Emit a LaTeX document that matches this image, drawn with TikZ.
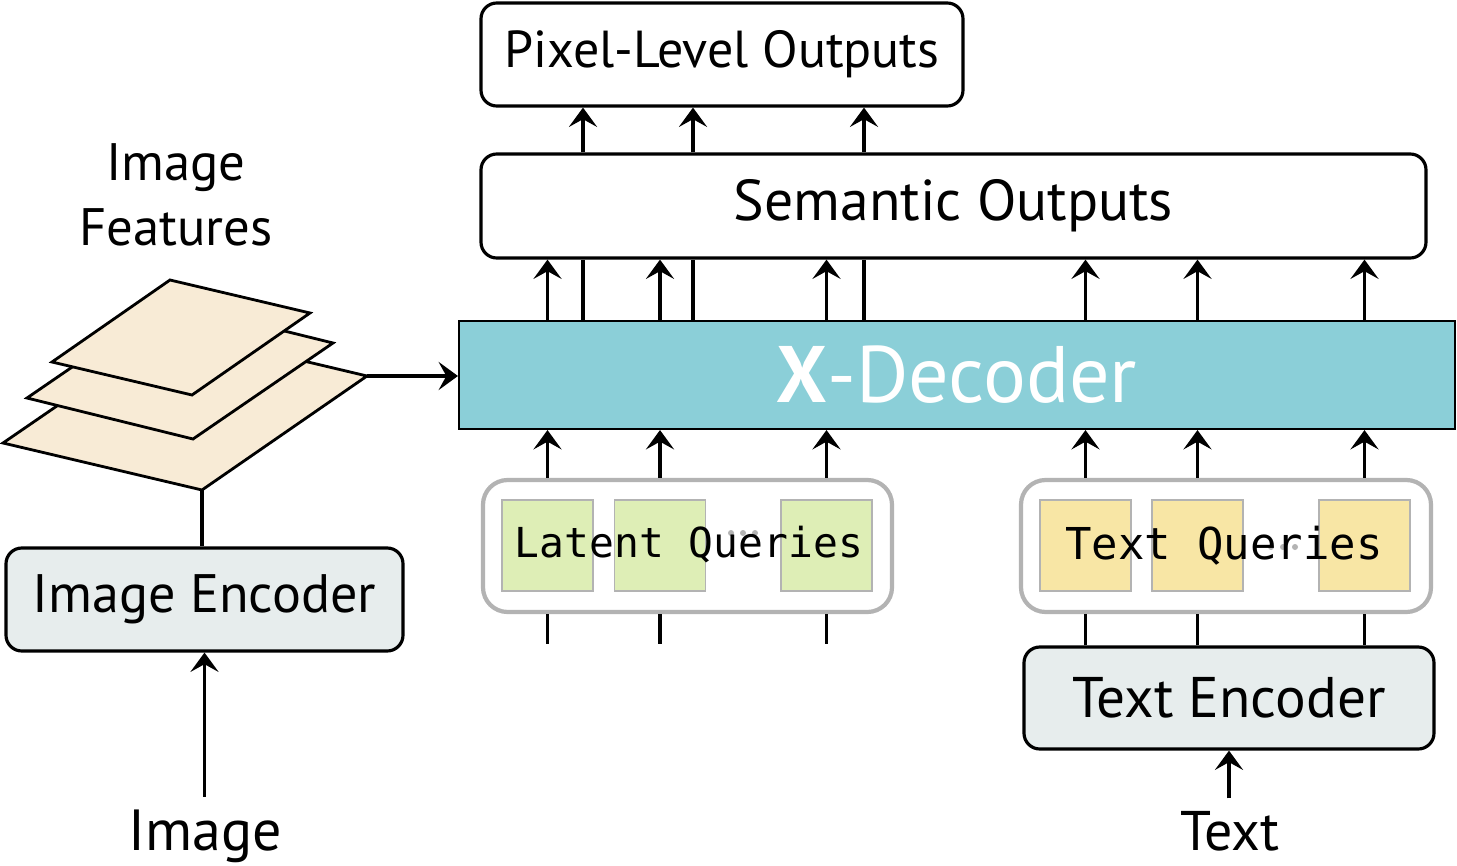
\documentclass[tikz,border=0pt]{standalone}
\usepackage{fontspec}
\setmainfont{PT Sans}
\newfontfamily\qfont{DejaVu Sans Mono}
\usetikzlibrary{positioning, arrows.meta}
\definecolor{decblue}{HTML}{8BCFD8}
\definecolor{latgreen}{HTML}{DEEEB6}
\definecolor{txtyellow}{HTML}{F8E6A5}
\definecolor{encgray}{HTML}{E7EDED}
\definecolor{featbeige}{HTML}{F8EBD6}
\definecolor{grpgray}{HTML}{B3B3B3}
\tikzset{
  outbox/.style={draw, line width=0.9pt, rounded corners=4.5pt, fill=white, inner sep=0pt},
  encbox/.style={draw, line width=0.9pt, rounded corners=4.5pt, fill=encgray, inner sep=0pt,
    minimum width=3.97cm, minimum height=1.03cm, font=\fontsize{15.4}{18}\selectfont},
  grpbox/.style={draw=grpgray, line width=1.2pt, rounded corners=7pt, fill=white, inner sep=0pt,
    minimum width=4.09cm, minimum height=1.32cm},
  qbox/.style={draw=grpgray, line width=0.5pt, inner sep=0pt, minimum size=0.91cm},
  qtext/.style={font=\qfont\fontsize{12}{14}\selectfont, inner sep=0pt},
  qdot/.style={circle, fill=grpgray, inner sep=0pt, minimum size=0.06cm},
  plane/.style={draw, line width=0.8pt, fill=featbeige, line join=miter},
  lbl/.style={font=\fontsize{15.4}{18.5}\selectfont, align=center},
  conn/.style={line width=0.9pt},
  arr/.style={line width=0.9pt, -{Stealth[length=5.5pt, width=8pt, inset=2.2pt]}},
}
\begin{document}
\begin{tikzpicture}
\useasboundingbox (0,0) rectangle (14.57,-8.66);

% feature maps
\draw[plane] (0.03,-4.43) -- (2.02,-4.90) -- (3.67,-3.76) -- (1.69,-3.29) -- cycle;
\draw[plane] (0.27,-3.98) -- (1.93,-4.39) -- (3.33,-3.43) -- (1.67,-3.02) -- cycle;
\draw[plane] (0.52,-3.62) -- (1.92,-3.95) -- (3.10,-3.13) -- (1.70,-2.80) -- cycle;
\coordinate (fbot) at (2.02,-4.90);
\coordinate (fright) at (3.67,-3.76);
\node[lbl, font=\fontsize{15}{18.5}\selectfont] (feat) at (1.76,-1.95) {Image\\Features};

% encoders
\node[encbox] (imgenc) at (2.045,-5.995) {Image Encoder};
\node[encbox, minimum width=4.10cm, minimum height=1.02cm, font=\fontsize{16.3}{18}\selectfont] (txtenc) at (12.29,-6.98) {Text Encoder};
\node[lbl, anchor=base, font=\fontsize{16.5}{18.5}\selectfont] (img) at (2.05,-8.50) {Image};
\node[lbl, anchor=base, font=\fontsize{15.9}{18.5}\selectfont] (txt) at (12.30,-8.50) {Text};

% decoder and outputs
\node[draw, line width=0.6pt, fill=decblue, inner sep=0pt, minimum width=9.96cm, minimum height=1.08cm,
  text=white, font=\fontsize{22.8}{28}\selectfont] (dec) at (9.57,-3.75) {\textbf{X}-Decoder};
\node[outbox, minimum width=9.45cm, minimum height=1.04cm, font=\fontsize{16.4}{20}\selectfont] (sem) at (9.535,-2.06) {Semantic Outputs};
\node[outbox, minimum width=4.82cm, minimum height=1.03cm, font=\fontsize{14.8}{18}\selectfont] (pix) at (7.22,-0.545) {Pixel-Level Outputs};

% query groups
\node[grpbox] (latgrp) at (6.875,-5.46) {};
\node[grpbox, minimum width=4.10cm] (txtgrp) at (12.26,-5.46) {};
\node[qbox, fill=latgreen] (q1) at (5.475,-5.455) {};
\node[qbox, fill=latgreen] (q2) at (6.60,-5.455) {};
\node[qbox, fill=latgreen] (q3) at (8.265,-5.455) {};
\node[qbox, fill=txtyellow] (t1) at (10.855,-5.455) {};
\node[qbox, fill=txtyellow] (t2) at (11.975,-5.455) {};
\node[qbox, fill=txtyellow] (t3) at (13.645,-5.455) {};
\foreach \x [count=\i] in {7.31,7.43,7.55} {
  \node[qdot] (ld\i) at (\x,-5.33) {};
}
\foreach \x [count=\i] in {12.71,12.83,12.95} {
  \node[qdot] (td\i) at (\x,-5.47) {};
}
\node[qtext, font=\qfont\fontsize{11.75}{14}\selectfont] (lq) at (6.89,-5.45) {Latent Queries};
\node[qtext, font=\qfont\fontsize{12.5}{14}\selectfont] (tq) at (12.24,-5.46) {Text Queries};

% connectors
\draw[arr] (fright) -- (dec.west |- fright);
\draw[conn] (fbot) -- (imgenc.north -| fbot);
\draw[arr] (img.north -| imgenc.south) -- (imgenc.south);
\draw[arr] (txt.north -| txtenc.south) -- (txtenc.south);
\foreach \q in {q1,q2,q3,t1,t2,t3} {
  \draw[arr] (\q |- dec.north) -- (\q |- sem.south);
}
\foreach \q in {q1,q2,q3} {
  \draw[arr] (\q |- latgrp.north) -- (\q |- dec.south);
  \draw[conn] (\q |- latgrp.south) -- ++(0,-0.30);
}
\foreach \q in {t1,t2,t3} {
  \draw[arr] (\q |- txtgrp.north) -- (\q |- dec.south);
  \draw[conn] (\q |- txtenc.north) -- (\q |- txtgrp.south);
}
\foreach \x in {5.83,6.93,8.64} {
  \draw[conn] (dec.north -| \x,0) -- (sem.south -| \x,0);
  \draw[arr] (sem.north -| \x,0) -- (pix.south -| \x,0);
}
\end{tikzpicture}
\end{document}
